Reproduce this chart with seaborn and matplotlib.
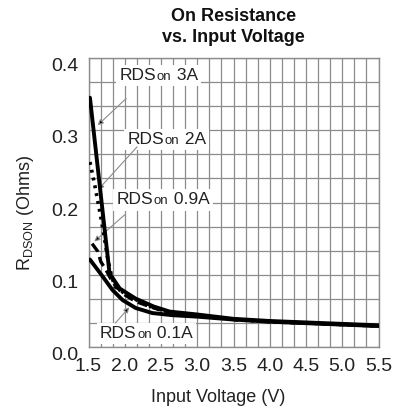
import numpy as np
import pandas as pd
import matplotlib
matplotlib.use("Agg")
import matplotlib.pyplot as plt
import seaborn as sns
from matplotlib.ticker import MultipleLocator
from matplotlib.offsetbox import TextArea, HPacker, AnnotationBbox

# curves (V, Ohms)
volts_3a = [1.52, 1.79, 1.93, 2.15, 2.40, 2.62, 3.0, 3.5, 4.0, 4.5, 5.0, 5.5]
rds_3a = [0.345, 0.102, 0.081, 0.067, 0.056, 0.049, 0.045, 0.039, 0.036, 0.034, 0.032, 0.030]

volts_2a = [1.52, 1.59, 1.66, 1.71, 1.76, 1.82, 1.87, 2.06, 2.40, 2.62, 3.0, 3.5, 4.0, 4.5, 5.0, 5.5]
rds_2a = [0.256, 0.222, 0.185, 0.157, 0.125, 0.097, 0.083, 0.070, 0.054, 0.048, 0.044, 0.038, 0.035, 0.033, 0.031, 0.029]

volts_09a = [1.55, 1.63, 1.67, 1.74, 1.83, 1.97, 2.15, 2.40, 2.62, 3.0, 3.5, 4.0, 4.5, 5.0, 5.5]
rds_09a = [0.143, 0.132, 0.118, 0.107, 0.090, 0.074, 0.063, 0.054, 0.048, 0.043, 0.038, 0.035, 0.033, 0.031, 0.029]

volts_01a = [1.52, 1.70, 1.83, 1.97, 2.15, 2.38, 2.66, 3.0, 3.5, 4.0, 4.5, 5.0, 5.5]
rds_01a = [0.121, 0.097, 0.079, 0.065, 0.054, 0.047, 0.044, 0.042, 0.038, 0.035, 0.033, 0.031, 0.029]

currents = ["3A", "2A", "0.9A", "0.1A"]
x_ticks = [1.5, 2.0, 2.5, 3.0, 3.5, 4.0, 4.5, 5.0, 5.5]
y_ticks = [0.0, 0.1, 0.2, 0.3, 0.4]

# label centre and arrow (tail -> head) for each curve, in data units
label_pos = {"3A": (2.47, 0.376), "2A": (2.58, 0.2875), "0.9A": (2.53, 0.2035), "0.1A": (2.30, 0.019)}
arrow_tail = {"3A": (2.02, 0.344), "2A": (2.17, 0.277), "0.9A": (2.00, 0.183), "0.1A": (1.87, 0.033)}
arrow_head = {"3A": (1.627, 0.307), "2A": (1.635, 0.218), "0.9A": (1.58, 0.146), "0.1A": (2.063, 0.055)}

sns.set_theme(style="whitegrid")
plt.rcParams['font.family'] = ['Liberation Sans', 'DejaVu Sans']

df = pd.concat([
    pd.DataFrame({"v": volts_3a, "r": rds_3a, "I": "3A"}),
    pd.DataFrame({"v": volts_2a, "r": rds_2a, "I": "2A"}),
    pd.DataFrame({"v": volts_09a, "r": rds_09a, "I": "0.9A"}),
    pd.DataFrame({"v": volts_01a, "r": rds_01a, "I": "0.1A"}),
])

styles = {
    "3A": dict(linestyle="-", linewidth=2.8),
    "2A": dict(linestyle=(0, (0.8, 1.4)), linewidth=2.6),
    "0.9A": dict(linestyle=(0, (3.0, 1.6)), linewidth=2.4),
    "0.1A": dict(linestyle="-", linewidth=2.8),
}

fig = plt.figure(figsize=(4.01, 4.16), dpi=100)
ax = fig.add_axes([88.5 / 401, 1 - 347 / 416, 290 / 401, 289 / 416])
ax.set_facecolor("white")

for cur in currents:
    sub = df[df["I"] == cur]
    sns.lineplot(data=sub, x="v", y="r", ax=ax, color="black", sort=False,
                 zorder=4, **styles[cur])

ax.set_xlim(1.5, 5.5)
ax.set_ylim(0.0, 0.4)
ax.set_xticks(x_ticks, [f"{t:.1f}" for t in x_ticks])
ax.set_yticks(y_ticks, [f"{t:.1f}" for t in y_ticks], va="top")
ax.xaxis.set_minor_locator(MultipleLocator(4 / 24))
ax.yaxis.set_minor_locator(MultipleLocator(0.4 / 12))
ax.set_axisbelow(True)
ax.grid(which="both", color="0.55", linewidth=0.9)
ax.tick_params(which="both", length=0)
ax.tick_params(axis="x", pad=8, labelsize=14, labelcolor="#222222")
ax.tick_params(axis="y", pad=7, labelsize=14, labelcolor="#222222")
for sp in ax.spines.values():
    sp.set_color("0.55")
    sp.set_linewidth(1.0)

ax.set_xlabel("")
ax.set_ylabel("")
fig.text(218 / 401, 1 - 398 / 416, "Input Voltage (V)", ha="center", va="center",
         fontsize=13, color="#222222")
fig.text(25 / 401, 1 - 213 / 416, r"R$_{\mathregular{DSON}}$ (Ohms)", ha="center", va="center",
         rotation=90, fontsize=13, color="#222222")
fig.text(233.5 / 401, 1 - 27 / 416, "On Resistance\nvs. Input Voltage", ha="center", va="center",
         fontsize=13, fontweight="bold", linespacing=1.3, color="#111111")

for cur in currents:
    parts = [
        TextArea("RDS", textprops=dict(size=12.5, color="#222222")),
        TextArea("on", textprops=dict(size=9.5, color="#222222")),
        TextArea(" " + cur, textprops=dict(size=12.5, color="#222222")),
    ]
    box = HPacker(children=parts, align="baseline", pad=0, sep=0.5)
    ab = AnnotationBbox(box, label_pos[cur], xycoords="data", frameon=True, pad=0.2,
                        bboxprops=dict(fc="white", ec="none"), box_alignment=(0.5, 0.5),
                        zorder=3)
    ax.add_artist(ab)
    ax.annotate("", xy=arrow_head[cur], xytext=arrow_tail[cur], zorder=3.5,
                arrowprops=dict(arrowstyle="-|>", ec="0.55", fc="black", lw=0.8,
                                mutation_scale=8, shrinkA=0, shrinkB=0))

fig.savefig("out.png", dpi=100, facecolor="white")
